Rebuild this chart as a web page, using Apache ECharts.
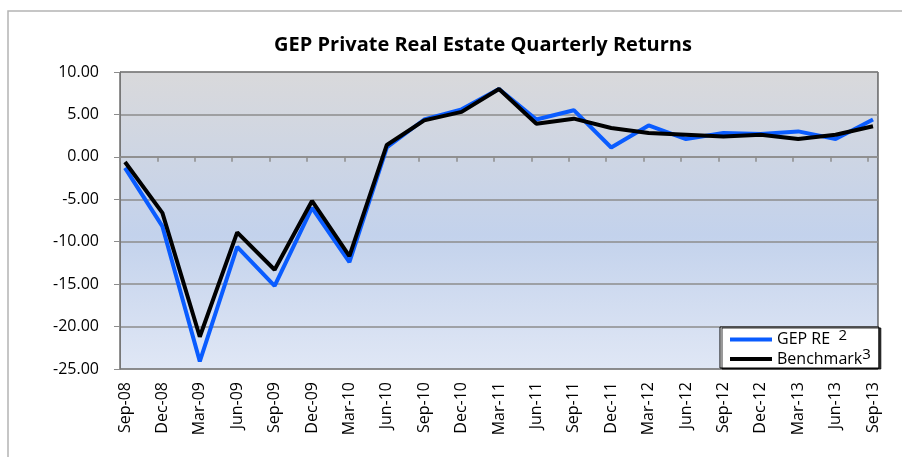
<!DOCTYPE html>
<html>
<head>
<meta charset="utf-8">
<script src="https://cdn.jsdelivr.net/npm/echarts@6/dist/echarts.min.js"></script>
<style>
  html, body { margin: 0; padding: 0; background: #fff; }
  #chart { width: 902px; height: 457px; }
</style>
</head>
<body>
<div id="chart"></div>
<script>
// quarters
const categories = [
  'Sep-08', 'Dec-08', 'Mar-09', 'Jun-09', 'Sep-09', 'Dec-09', 'Mar-10',
  'Jun-10', 'Sep-10', 'Dec-10', 'Mar-11', 'Jun-11', 'Sep-11', 'Dec-11',
  'Mar-12', 'Jun-12', 'Sep-12', 'Dec-12', 'Mar-13', 'Jun-13', 'Sep-13'
]
// GEP RE quarterly returns (%)
const gepRe = [
  -1.3, -8.2, -24.1, -10.6, -15.2, -6.0, -12.4,
  1.1, 4.4, 5.6, 8.0, 4.4, 5.5, 1.1,
  3.7, 2.1, 2.8, 2.7, 3.0, 2.1, 4.4
]
// Benchmark quarterly returns (%)
const benchmark = [
  -0.6, -6.6, -21.2, -8.9, -13.3, -5.2, -11.7,
  1.4, 4.3, 5.3, 8.0, 3.9, 4.5, 3.4,
  2.8, 2.6, 2.4, 2.6, 2.1, 2.6, 3.6
]
const yMin = -25
const yMax = 10
const yStep = 5

const font = '"Open Sans", "Liberation Sans", sans-serif'
const chart = echarts.init(document.getElementById('chart'))

const hiddenY = (i) => ({
  gridIndex: i, type: 'value', min: yMin, max: yMax, interval: yStep, show: false
})

chart.setOption({
  animation: false,
  title: {
    text: 'GEP Private Real Estate Quarterly Returns',
    left: 478,
    top: 30,
    textAlign: 'center',
    textStyle: { fontFamily: font, fontWeight: 'bold', fontSize: 20, color: '#000' }
  },
  graphic: [{
    // outer chart frame
    type: 'rect',
    shape: { x: 8, y: 11, width: 900, height: 460 },
    style: { fill: 'none', stroke: '#b4b4b4', lineWidth: 1.5 },
    silent: true
  }],
  legend: {
    orient: 'vertical',
    left: 720,
    top: 327,
    width: 150,
    padding: [1, 8, 1, 10],
    itemGap: 0,
    itemWidth: 42,
    itemHeight: 4,
    icon: 'rect',
    backgroundColor: '#fff',
    borderColor: '#000',
    borderWidth: 1,
    shadowColor: 'rgba(0,0,0,0.8)',
    shadowOffsetX: 2,
    shadowOffsetY: 1,
    data: ['GEP RE', 'Benchmark'],
    formatter: (name) => name === 'GEP RE' ? 'GEP RE  {sup|2}' : 'Benchmark{sup|3}',
    textStyle: {
      fontFamily: font, fontSize: 16, color: '#000',
      rich: { sup: { fontFamily: font, fontSize: 15, verticalAlign: 'top', padding: [0, 0, 8, 0] } }
    }
  },
  grid: [
    // plot background, frame, y axis and gridlines
    { left: 120, top: 72, width: 758, height: 297, show: true,
      backgroundColor: new echarts.graphic.LinearGradient(0, 0, 0, 1, [
        { offset: 0, color: '#d9d9db' },
        { offset: 0.55, color: '#c3d2ec' },
        { offset: 1, color: '#e0e7f5' }
      ]),
      borderColor: '#222', borderWidth: 1 },
    // zero line ticks
    { left: 120, top: 72, width: 748, height: 297 },
    // lines and category labels
    { left: 125, top: 72, width: 748, height: 297 }
  ],
  xAxis: [
    { gridIndex: 0, type: 'category', data: categories, boundaryGap: false,
      axisLine: { onZero: true, lineStyle: { color: '#8c8c8c', width: 1.5 } },
      axisTick: { show: false }, axisLabel: { show: false } },
    { gridIndex: 1, type: 'category', data: categories, boundaryGap: false,
      axisLine: { show: false, onZero: true },
      axisTick: { show: true, interval: 0, length: 5, lineStyle: { color: '#8c8c8c', width: 1.5 } },
      axisLabel: { show: false } },
    { gridIndex: 2, type: 'category', data: categories, boundaryGap: false,
      axisLine: { show: false, onZero: false },
      axisTick: { show: false },
      axisLabel: { interval: 0, rotate: 90, margin: 13, fontFamily: font, fontSize: 16, color: '#000' } }
  ],
  yAxis: [
    { gridIndex: 0, type: 'value', min: yMin, max: yMax, interval: yStep,
      axisLine: { show: true, lineStyle: { color: '#777' } },
      axisTick: { show: true, length: 6, lineStyle: { color: '#8c8c8c' } },
      axisLabel: { margin: 21, fontFamily: font, fontSize: 16, color: '#000',
        formatter: (v) => v.toFixed(2) },
      splitLine: { lineStyle: { color: '#8c8c8c', width: 1.5 } } },
    hiddenY(1),
    hiddenY(2)
  ],
  series: [
    { name: 'GEP RE', type: 'line', xAxisIndex: 2, yAxisIndex: 2, data: gepRe,
      symbol: 'none', lineStyle: { color: '#0a5cff', width: 4 }, itemStyle: { color: '#0a5cff' } },
    { name: 'Benchmark', type: 'line', xAxisIndex: 2, yAxisIndex: 2, data: benchmark,
      symbol: 'none', lineStyle: { color: '#000', width: 4 }, itemStyle: { color: '#000' } }
  ]
})
</script>
</body>
</html>
